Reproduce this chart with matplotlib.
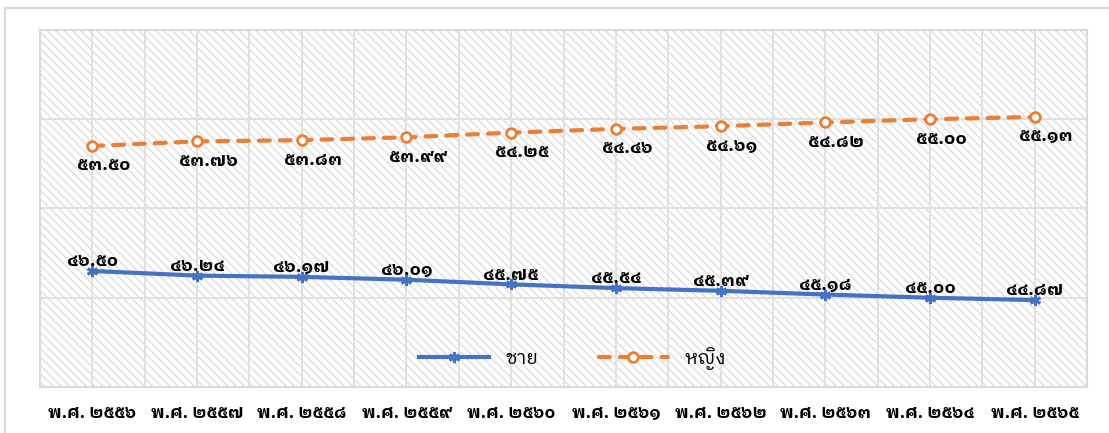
import matplotlib
matplotlib.use("Agg")
import matplotlib.pyplot as plt
from matplotlib.patches import Rectangle

plt.rcParams['font.family'] = ['IBM Plex Sans Thai Looped', 'DejaVu Sans']
plt.rcParams['hatch.linewidth'] = 1.0

# data
years = ["พ.ศ. ๒๕๕๖", "พ.ศ. ๒๕๕๗", "พ.ศ. ๒๕๕๘", "พ.ศ. ๒๕๕๙", "พ.ศ. ๒๕๖๐",
         "พ.ศ. ๒๕๖๑", "พ.ศ. ๒๕๖๒", "พ.ศ. ๒๕๖๓", "พ.ศ. ๒๕๖๔", "พ.ศ. ๒๕๖๕"]
male = [46.50, 46.24, 46.17, 46.01, 45.75, 45.54, 45.39, 45.18, 45.00, 44.87]
female = [53.50, 53.76, 53.83, 53.99, 54.25, 54.46, 54.61, 54.82, 55.00, 55.13]

THAI_DIGITS = str.maketrans("0123456789", "๐๑๒๓๔๕๖๗๘๙")


def thai(v):
    return f"{v:.2f}".translate(THAI_DIGITS)


fig = plt.figure(figsize=(11.09, 4.33), dpi=100)
# outer chart border (only top/left visible in the crop)
fig.add_artist(Rectangle((5 / 1109, -0.2), 2.0, 0.2 + 1 - 8 / 433,
                         transform=fig.transFigure, fill=False,
                         edgecolor='#d9d9d9', linewidth=1.5))

ax = fig.add_axes([40 / 1109, 1 - 387 / 433, 1047 / 1109, 357 / 433])
# hatched plot-area fill
ax.add_patch(Rectangle((0, 0), 1, 1, transform=ax.transAxes, facecolor='white',
                       edgecolor='#dedede', linewidth=0, hatch='\\\\\\\\', zorder=0))

x = list(range(len(years)))
ax.set_xlim(-0.5, len(years) - 0.5)
ax.set_ylim(40, 60)
ax.set_yticks([40, 45, 50, 55, 60])
ax.set_xticks(x)
ax.set_xticks([i + 0.5 for i in x[:-1]], minor=True)
ax.grid(True, which='both', color='#e0e0e0', linewidth=1.4, zorder=1)
ax.tick_params(axis='both', which='both', length=0)
ax.set_yticklabels([])
ax.set_xticklabels(years, fontsize=12.5, fontweight='bold')
ax.tick_params(axis='x', pad=14)
for s in ax.spines.values():
    s.set_color('#d9d9d9')
    s.set_linewidth(1.5)

ax.plot(x, male, color='#4472C4', linewidth=3, marker=(6, 2, 0),
        markersize=8, markeredgewidth=2, markeredgecolor='#4472C4',
        label='ชาย', zorder=3)
ax.plot(x, female, color='#ED7D31', linewidth=3, dashes=(2.6, 2.4),
        dash_capstyle='round', marker='o', markersize=7,
        markerfacecolor='white', markeredgecolor='#ED7D31',
        markeredgewidth=2, label='หญิง', zorder=3)

for xi, v in zip(x, male):
    ax.annotate(thai(v), (xi, v), textcoords='offset points', xytext=(0, 7),
                ha='center', va='center', fontsize=13, fontweight='bold', zorder=4)
for xi, v in zip(x, female):
    ax.annotate(thai(v), (xi, v), textcoords='offset points', xytext=(8, -14),
                ha='center', va='center', fontsize=13, fontweight='bold', zorder=4)

ax.legend(loc='center', bbox_to_anchor=(0.509, 0.081), ncol=2, frameon=False,
          fontsize=13.5, handlelength=3.7, columnspacing=3.2, handletextpad=0.9)

fig.savefig("out.png", dpi=100)
